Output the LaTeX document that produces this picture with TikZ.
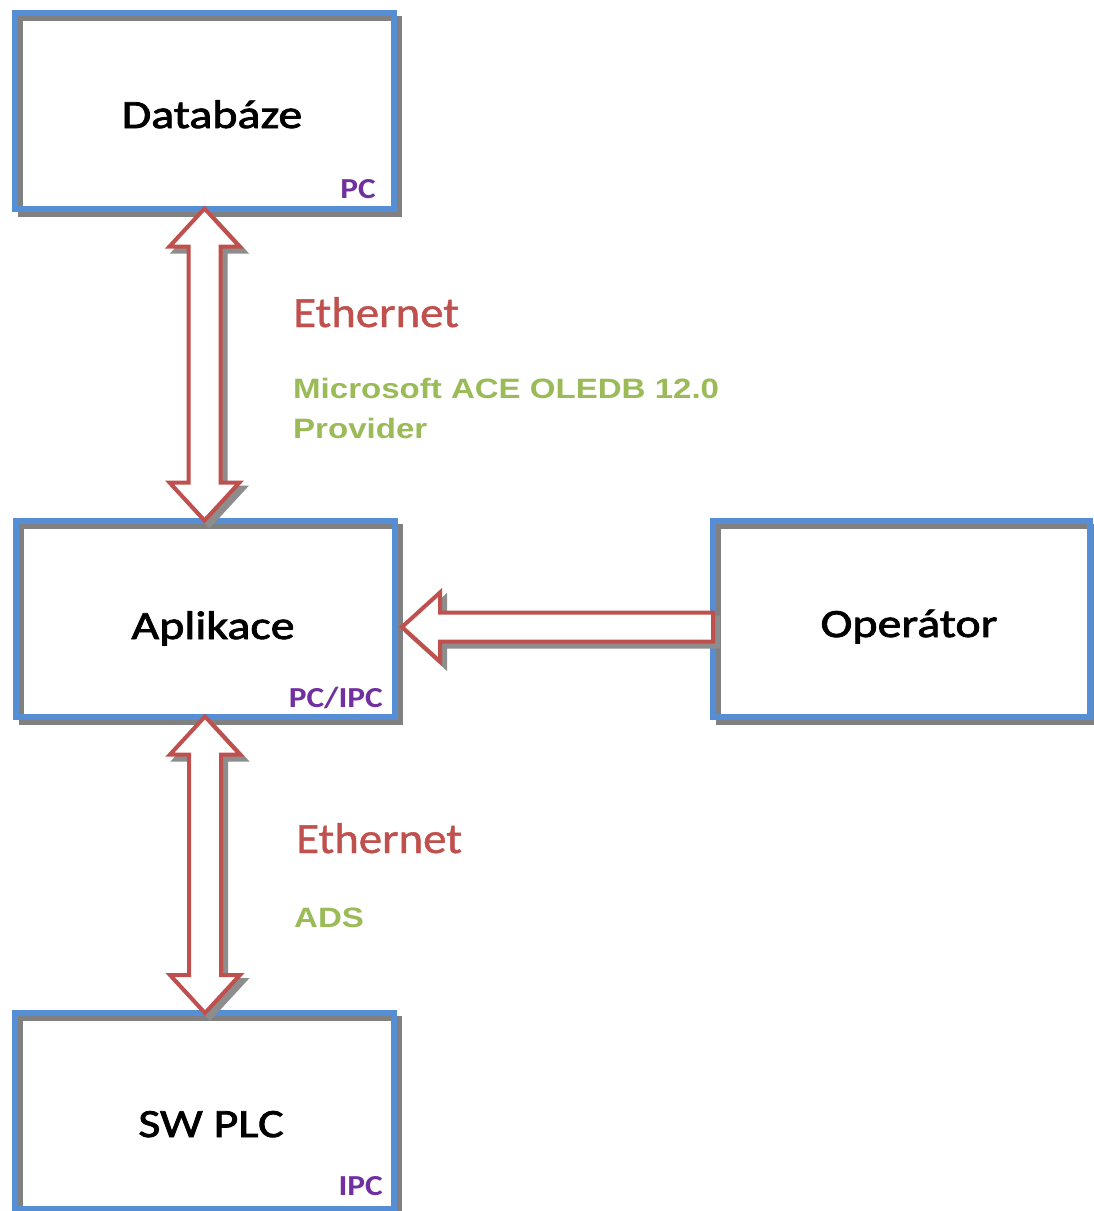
\documentclass[tikz,border=0pt]{standalone}
\usepackage{fontspec}
\usetikzlibrary{calc,backgrounds}

\newfontfamily\boxfont[FakeStretch=1.2,FakeBold=2]{Carlito}
\newfontfamily\netfont[FakeStretch=1.09,FakeBold=1]{Carlito}
\newfontfamily\hostfont[FakeStretch=1.15]{Carlito}
\newfontfamily\protofont[FakeStretch=1.18]{Liberation Sans}

\definecolor{boxblue}{RGB}{85,142,213}
\definecolor{shade}{RGB}{128,128,128}
\definecolor{linkred}{RGB}{192,80,77}
\definecolor{protogreen}{RGB}{155,187,89}
\definecolor{hostpurple}{RGB}{112,48,160}

% vertical double arrow between two tip points, shifted by #3 pt right and down
\newcommand\vdpath[3]{let \p1=(#1), \p2=(#2) in
  ({\x1+#3pt},{\y1-#3pt}) -- ({\x1+#3pt+35pt},{\y1-#3pt-38pt}) --
  ({\x1+#3pt+16pt},{\y1-#3pt-38pt}) -- ({\x1+#3pt+16pt},{\y2-#3pt+38pt}) --
  ({\x1+#3pt+35pt},{\y2-#3pt+38pt}) -- ({\x1+#3pt},{\y2-#3pt}) --
  ({\x1+#3pt-35pt},{\y2-#3pt+38pt}) -- ({\x1+#3pt-16pt},{\y2-#3pt+38pt}) --
  ({\x1+#3pt-16pt},{\y1-#3pt-38pt}) -- ({\x1+#3pt-35pt},{\y1-#3pt-38pt}) -- cycle}

% horizontal single arrow pointing left from #2 to tip #1, shifted by #3 pt
\newcommand\hlpath[3]{let \p1=(#1), \p2=(#2) in
  ({\x1+#3pt},{\y1-#3pt}) -- ({\x1+#3pt+38pt},{\y1-#3pt+34.5pt}) --
  ({\x1+#3pt+38pt},{\y1-#3pt+14.5pt}) -- ({\x2+#3pt},{\y1-#3pt+14.5pt}) --
  ({\x2+#3pt},{\y1-#3pt-14.5pt}) -- ({\x1+#3pt+38pt},{\y1-#3pt-14.5pt}) --
  ({\x1+#3pt+38pt},{\y1-#3pt-34.5pt}) -- cycle}

\begin{document}
\begin{tikzpicture}[x=1pt,y=-1pt,
  box/.style={draw=boxblue, line width=6pt, minimum width=379pt,
    minimum height=196pt, inner sep=0pt, outer sep=0pt},
  boxshade/.style={draw=shade, line width=5pt},
  linkbody/.style={draw=linkred, fill=white, line width=4pt, line join=miter},
  linkshade/.style={draw=shade!90, fill=shade!90, line width=4pt},
  boxlabel/.style={font=\boxfont\fontsize{40}{48}\selectfont, text=black,
    inner sep=0pt, anchor=base},
  host/.style={font=\hostfont\bfseries\fontsize{29}{35}\selectfont,
    text=hostpurple, inner sep=0pt, anchor=base east},
  net/.style={font=\netfont\fontsize{43}{52}\selectfont, text=linkred,
    inner sep=0pt, anchor=base west},
  proto/.style={font=\protofont\bfseries\fontsize{28}{40}\selectfont,
    text=protogreen, inner sep=0pt, align=left},
]
\useasboundingbox (0,0) rectangle (1094,1211);
\begin{scope}[on background layer]
  \fill[white] (0,0) rectangle (1094,1211);
\end{scope}

% boxes
\node[box] (db)  at (204.5,110.5) {};
\node[box] (app) at (205,618.5) {};
\node[box, minimum width=377pt] (op) at (901.5,619) {};
\node[box] (plc) at (204,1111) {};

% box shadows
\begin{scope}[on background layer]
  \foreach \b in {db,app,op,plc}
    \draw[boxshade] ([shift={(5.5pt,-5.5pt)}]\b.south west)
      rectangle ([shift={(5.5pt,-5.5pt)}]\b.north east);
\end{scope}

% links
\coordinate (optip) at ([shift={(7.5pt,-8.5pt)}]app.east);
\coordinate (opend) at (op.west |- optip);

\draw[linkshade] \vdpath{db.south}{app.north}{5};
\draw[linkbody]  \vdpath{db.south}{app.north}{0};
\draw[linkshade] \vdpath{app.south}{plc.north}{5};
\draw[linkbody]  \vdpath{app.south}{plc.north}{0};
\draw[linkshade] \hlpath{optip}{opend}{5};
\draw[linkbody]  \hlpath{optip}{opend}{0};

% labels
\node[boxlabel] (dbname)  at (212,128)  {Databáze};
\node[boxlabel] (appname) at (213,639)  {Aplikace};
\node[boxlabel] (opname)  at (909,637)  {Operátor};
\node[boxlabel] (plcname) at (211,1137) {SW PLC};

\node[host] (dbhost)  at (376,198)  {PC};
\node[host] (apphost) at (383,707)  {PC/IPC};
\node[host] (plchost) at (383,1195) {IPC};

\node[net] (net1) at (293,327) {Ethernet};
\node[net] (net2) at (296,853) {Ethernet};

\node[proto, anchor=north west] (proto1) at (293,378)
  {Microsoft ACE OLEDB 12.0\\Provider};
\node[proto, anchor=base west] (proto2) at (294,927) {ADS};
\end{tikzpicture}
\end{document}
